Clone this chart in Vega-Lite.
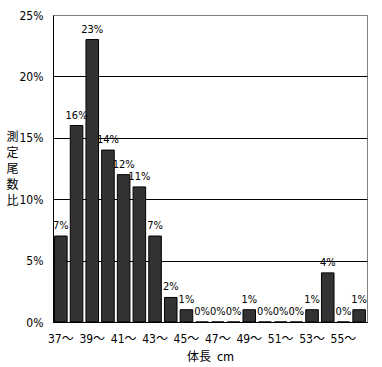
{
  "$schema": "https://vega.github.io/schema/vega-lite/v6.json",
  "autosize": {"type": "none"},
  "padding": {"left": 53, "top": 15, "right": 15, "bottom": 45},
  "width": 314,
  "height": 307,
  "background": "white",
  "config": {
    "view": {"stroke": "#808080", "strokeWidth": 1},
    "font": "Liberation Sans Narrow, DejaVu Sans Condensed, Liberation Sans, Noto Sans CJK JP"
  },
  "data": {
    "values": [
      {"len": "37〜", "pct": 0.07},
      {"len": "38〜", "pct": 0.16},
      {"len": "39〜", "pct": 0.23},
      {"len": "40〜", "pct": 0.14},
      {"len": "41〜", "pct": 0.12},
      {"len": "42〜", "pct": 0.11},
      {"len": "43〜", "pct": 0.07},
      {"len": "44〜", "pct": 0.02},
      {"len": "45〜", "pct": 0.01},
      {"len": "46〜", "pct": 0},
      {"len": "47〜", "pct": 0},
      {"len": "48〜", "pct": 0},
      {"len": "49〜", "pct": 0.01},
      {"len": "50〜", "pct": 0},
      {"len": "51〜", "pct": 0},
      {"len": "52〜", "pct": 0},
      {"len": "53〜", "pct": 0.01},
      {"len": "54〜", "pct": 0.04},
      {"len": "55〜", "pct": 0},
      {"len": "56〜", "pct": 0.01}
    ]
  },
  "encoding": {
    "x": {
      "field": "len", "type": "ordinal", "sort": null,
      "scale": {"paddingInner": 0.2, "paddingOuter": 0.1},
      "axis": {
        "values": ["37〜","39〜","41〜","43〜","45〜","47〜","49〜","51〜","53〜","55〜"],
        "labelAngle": 0, "labelFontSize": 12, "labelColor": "black", "labelPadding": 11,
        "ticks": false, "domainColor": "black",
        "title": "体長\u2002cm", "titleFontSize": 12, "titleFontWeight": "normal", "titleColor": "black",
        "titlePadding": 7, "titleFont": "Noto Sans CJK JP"
      }
    },
    "y": {
      "field": "pct", "type": "quantitative",
      "scale": {"domain": [0, 0.25]},
      "axis": {
        "values": [0, 0.05, 0.1, 0.15, 0.2, 0.25],
        "format": ".0%",
        "labelFontSize": 12, "labelColor": "black", "labelPadding": 10,
        "ticks": false, "domainColor": "black",
        "gridColor": {"condition": {"test": "datum.value >= 0.25", "value": "#808080"}, "value": "black"},
        "gridOpacity": 1,
        "title": ["測", "定", "尾", "数", "比"],
        "titleAngle": 0, "titleFontSize": 12, "titleFontWeight": "normal", "titleColor": "black",
        "titleLineHeight": 16, "titleAlign": "center", "titleBaseline": "top",
        "titleX": -41, "titleY": 116, "titleFont": "Noto Sans CJK JP"
      }
    }
  },
  "layer": [
    {"mark": {"type": "bar", "fill": "#333333", "stroke": "black", "strokeWidth": 1}},
    {
      "mark": {"type": "text", "baseline": "alphabetic", "dy": -7, "fontSize": 11, "fill": "black"},
      "encoding": {"text": {"field": "pct", "type": "quantitative", "format": ".0%"}}
    }
  ]
}
